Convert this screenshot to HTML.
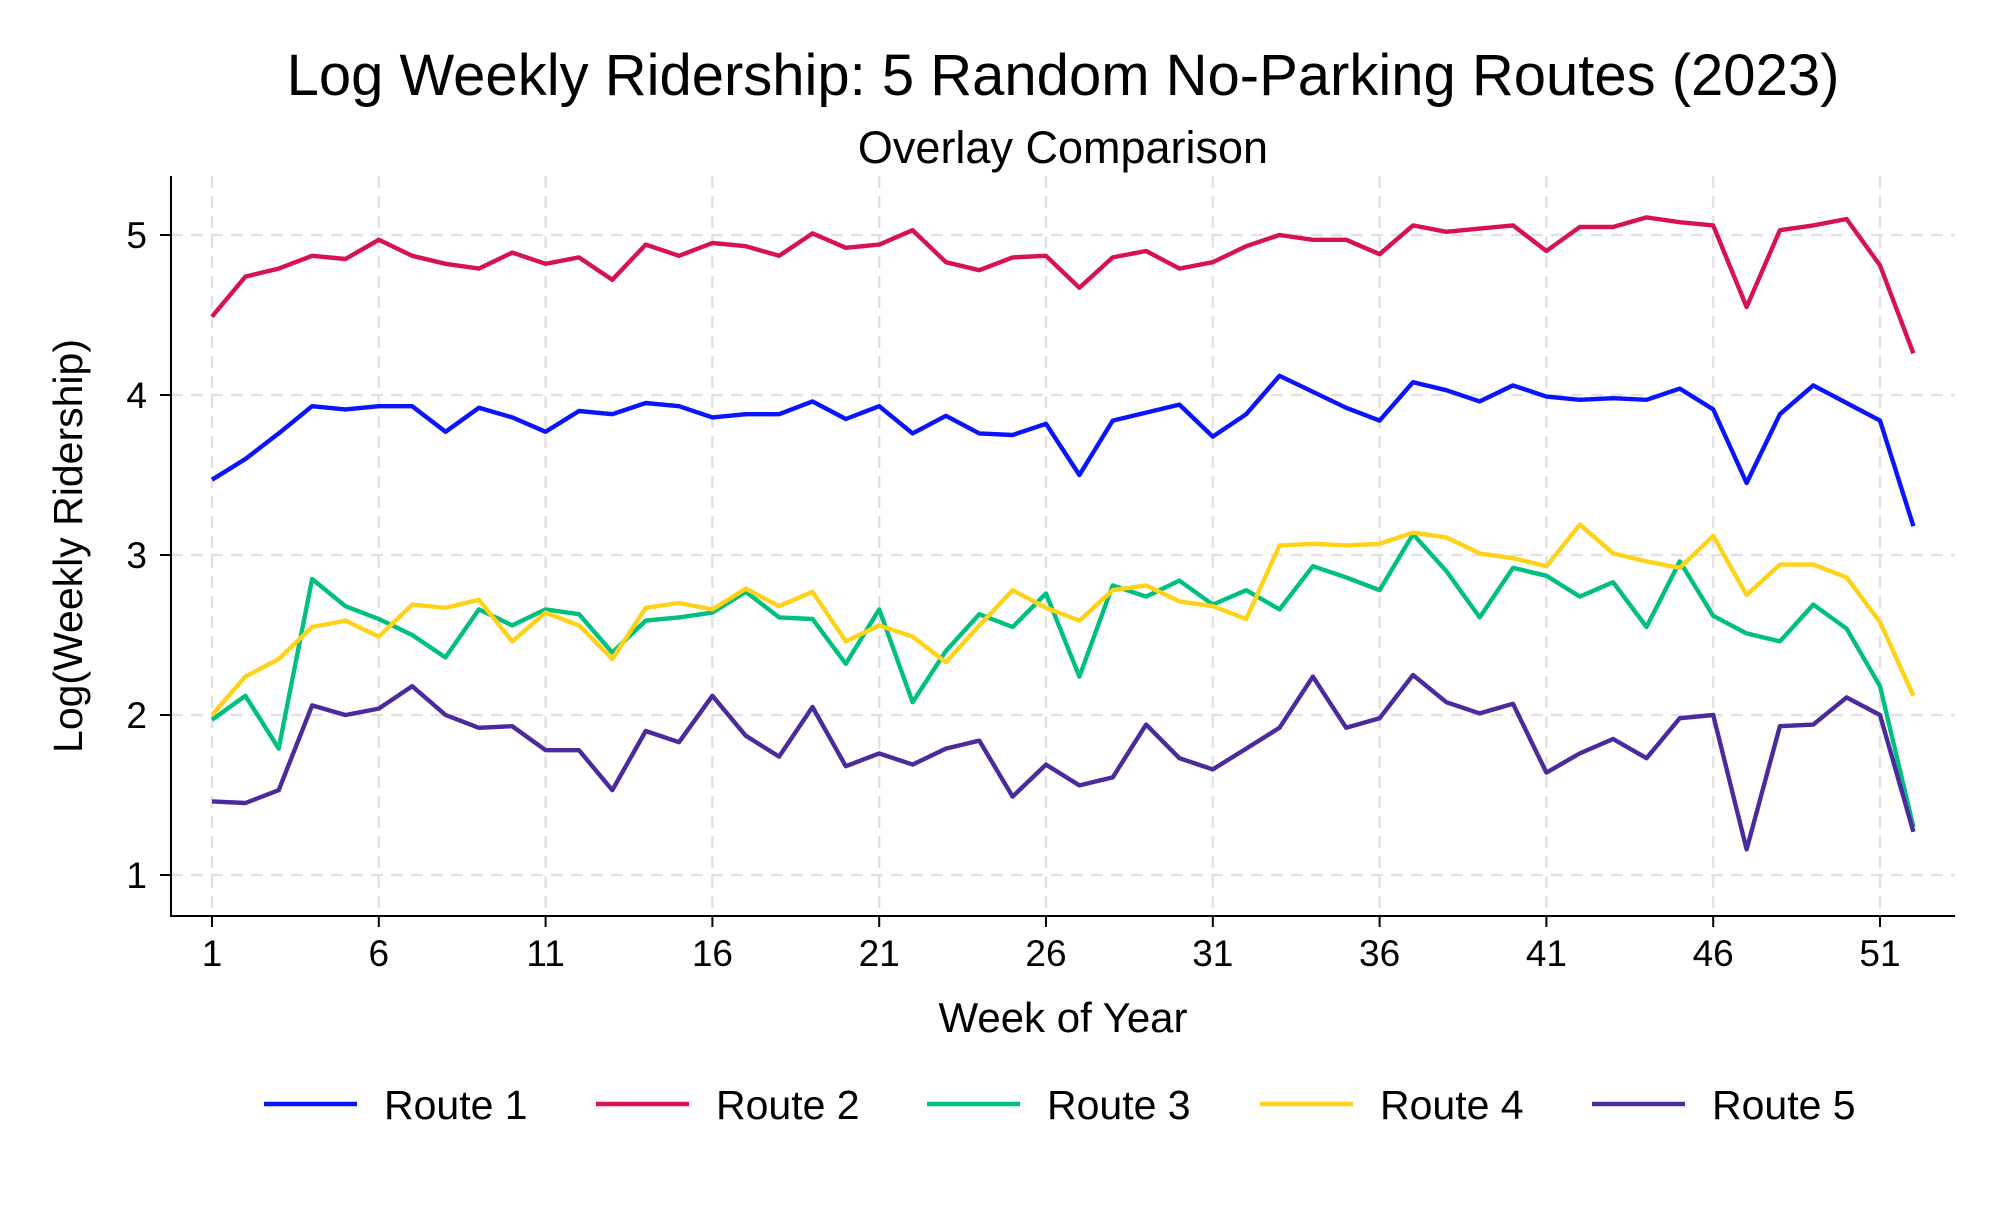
<!DOCTYPE html>
<html><head><meta charset="utf-8"><style>
body{margin:0;background:#fff}
svg text{font-family:"Liberation Sans",Arial,sans-serif;fill:#000}
</style></head><body>
<svg id="chart" width="2000" height="1200" viewBox="0 0 2000 1200" xmlns="http://www.w3.org/2000/svg">
<rect width="2000" height="1200" fill="#fff"/>
<text x="1063" y="95" font-size="58" text-anchor="middle">Log Weekly Ridership: 5 Random No-Parking Routes (2023)</text>
<text x="1063" y="163" font-size="45" text-anchor="middle">Overlay Comparison</text>
<g id="grid"></g><g id="axes"></g><g id="series"></g><g id="legend"></g>
<text x="1063" y="1032" font-size="42" text-anchor="middle">Week of Year</text>
<text transform="translate(82,546) rotate(-90)" font-size="41" text-anchor="middle">Log(Weekly Ridership)</text>
</svg>
<script>
const weeks = Array.from({length:52},(_,i)=>i+1);
const xTicks = [1,6,11,16,21,26,31,36,41,46,51];
const yTicks = [1,2,3,4,5];
const seriesNames = ["Route 1","Route 2","Route 3","Route 4","Route 5"];
const route1 = [3.47,3.60,3.76,3.93,3.91,3.93,3.93,3.77,3.92,3.86,3.77,3.90,3.88,3.95,3.93,3.86,3.88,3.88,3.96,3.85,3.93,3.76,3.87,3.76,3.75,3.82,3.50,3.84,3.89,3.94,3.74,3.88,4.12,4.02,3.92,3.84,4.08,4.03,3.96,4.06,3.99,3.97,3.98,3.97,4.04,3.91,3.45,3.88,4.06,3.95,3.84,3.18];
const route2 = [4.49,4.74,4.79,4.87,4.85,4.97,4.87,4.82,4.79,4.89,4.82,4.86,4.72,4.94,4.87,4.95,4.93,4.87,5.01,4.92,4.94,5.03,4.83,4.78,4.86,4.87,4.67,4.86,4.90,4.79,4.83,4.93,5.00,4.97,4.97,4.88,5.06,5.02,5.04,5.06,4.90,5.05,5.05,5.11,5.08,5.06,4.55,5.03,5.06,5.10,4.81,4.26];
const route3 = [1.97,2.12,1.79,2.85,2.68,2.60,2.50,2.36,2.66,2.56,2.66,2.63,2.39,2.59,2.61,2.64,2.77,2.61,2.60,2.32,2.66,2.08,2.40,2.63,2.55,2.76,2.24,2.81,2.74,2.84,2.69,2.78,2.66,2.93,2.86,2.78,3.13,2.90,2.61,2.92,2.87,2.74,2.83,2.55,2.96,2.62,2.51,2.46,2.69,2.54,2.18,1.30];
const route4 = [2.00,2.24,2.35,2.55,2.59,2.49,2.69,2.67,2.72,2.46,2.64,2.56,2.35,2.67,2.70,2.66,2.79,2.68,2.77,2.46,2.56,2.49,2.33,2.56,2.78,2.67,2.59,2.78,2.81,2.71,2.68,2.60,3.06,3.07,3.06,3.07,3.14,3.11,3.01,2.98,2.93,3.19,3.01,2.96,2.92,3.12,2.75,2.94,2.94,2.86,2.58,2.12];
const route5 = [1.46,1.45,1.53,2.06,2.00,2.04,2.18,2.00,1.92,1.93,1.78,1.78,1.53,1.90,1.83,2.12,1.87,1.74,2.05,1.68,1.76,1.69,1.79,1.84,1.49,1.69,1.56,1.61,1.94,1.73,1.66,1.79,1.92,2.24,1.92,1.98,2.25,2.08,2.01,2.07,1.64,1.76,1.85,1.73,1.98,2.00,1.16,1.93,1.94,2.11,2.00,1.27];
const colors = ["#0a14ff","#d61156","#00bf7f","#ffd21a","#4b2a9e"];
const allSeries = [route1,route2,route3,route4,route5];

const NS="http://www.w3.org/2000/svg";
const L=171,R=1955,T=176,B=916;
const xs = w => 212 + (w-1)*(1880-212)/50;
const ys = v => 875 - (v-1)*(875-235)/4;
function mk(tag,attrs,parent){const e=document.createElementNS(NS,tag);for(const k in attrs)e.setAttribute(k,attrs[k]);parent.appendChild(e);return e;}
const grid=document.getElementById('grid'),axes=document.getElementById('axes'),ser=document.getElementById('series'),leg=document.getElementById('legend');

xTicks.forEach(t=>{
  const g=mk('line',{x1:xs(t),x2:xs(t),y1:T,y2:B,stroke:'#e2e2e2','stroke-width':2.5,'stroke-dasharray':'12,8'},grid);
  
  
  const tk=mk('line',{x1:xs(t),x2:xs(t),y1:B,y2:B+11,stroke:'#000','stroke-width':2},axes);
  
  
  const tx=mk('text',{x:xs(t),y:B+50,'font-size':37,'text-anchor':'middle'},axes);
  tx.textContent=t;
  
  
});
yTicks.forEach(t=>{
  const g=mk('line',{x1:L,x2:R,y1:ys(t),y2:ys(t),stroke:'#e2e2e2','stroke-width':2.5,'stroke-dasharray':'12,8'},grid);
  
  
  const tk=mk('line',{x1:L-11,x2:L,y1:ys(t),y2:ys(t),stroke:'#000','stroke-width':2},axes);
  
  
  const tx=mk('text',{x:L-24,y:ys(t)+13,'font-size':37,'text-anchor':'end'},axes);
  tx.textContent=t;
  
  
});
const ax=mk('path',{d:`M${L},${T} V${B} H${R}`,fill:'none',stroke:'#000','stroke-width':2},axes);



allSeries.forEach((s,i)=>{
  const d=s.map((v,j)=>(j?'L':'M')+xs(weeks[j]).toFixed(1)+','+ys(v).toFixed(1)).join(' ');
  const p=mk('path',{d:d,fill:'none',stroke:colors[i],'stroke-width':4.4,'stroke-linejoin':'round'},ser);
  
  
});
const legX=[264,596,927,1260,1592];
seriesNames.forEach((n,i)=>{
  const g=mk('g',{},leg);
  
  
  mk('line',{x1:legX[i],x2:legX[i]+93,y1:1104,y2:1104,stroke:colors[i],'stroke-width':4.5},g);
  const t=mk('text',{x:legX[i]+120,y:1119,'font-size':41},g);
  t.textContent=n;
});
</script>
</body></html>
